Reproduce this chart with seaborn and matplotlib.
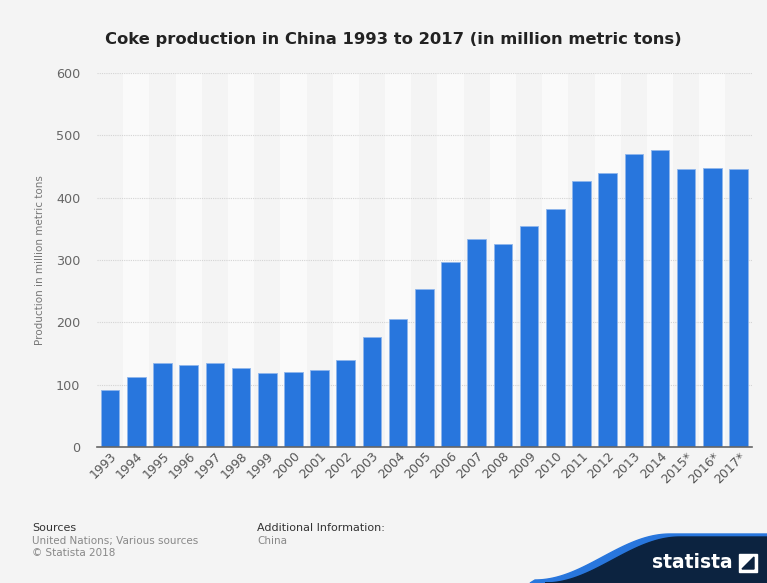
import numpy as np
import matplotlib
matplotlib.use("Agg")
import matplotlib.pyplot as plt
import seaborn as sns
import pandas as pd
from matplotlib.patches import Polygon

years = ["1993", "1994", "1995", "1996", "1997", "1998", "1999", "2000", "2001",
         "2002", "2003", "2004", "2005", "2006", "2007", "2008", "2009", "2010",
         "2011", "2012", "2013", "2014", "2015*", "2016*", "2017*"]
production = [91, 112, 134, 132, 134, 127, 119, 121, 124, 140, 177, 205, 253,
              296, 333, 325, 354, 381, 426, 439, 470, 476, 446, 447, 446]

df = pd.DataFrame({"year": years, "production": production})

sns.set_theme(style="white")
plt.rcParams['font.family'] = ['DejaVu Sans']

bg = "#f4f4f4"
fig = plt.figure(figsize=(7.67, 5.83), dpi=100, facecolor=bg)
ax = fig.add_axes([0.1265, 0.2333, 0.8535, 0.6415])
ax.set_facecolor(bg)

for i in range(len(years)):
    if i % 2 == 1:
        ax.axvspan(i - 0.5, i + 0.5, color="#fafafa", zorder=0, lw=0)

sns.barplot(data=df, x="year", y="production", color="#2876dd", width=0.71,
            saturation=1, edgecolor="#8fb6ec", linewidth=0.6, ax=ax, zorder=3)

ax.set_xlim(-0.5, len(years) - 0.5)
ax.set_ylim(0, 600)
ax.set_yticks(range(0, 601, 100))
ax.yaxis.grid(True, linestyle=(0, (1, 1)), color="#d4d4d4", linewidth=0.8, zorder=1)
ax.set_axisbelow(True)
for s in ["top", "right", "left"]:
    ax.spines[s].set_visible(False)
ax.spines["bottom"].set_color("#666666")
ax.spines["bottom"].set_linewidth(1.2)
ax.spines["bottom"].set_zorder(4)

ax.tick_params(axis="y", length=0, labelsize=9.2, labelcolor="#666666", pad=12)
ax.tick_params(axis="x", length=0, labelsize=9, labelcolor="#555555", pad=2)
for lbl in ax.get_xticklabels():
    lbl.set_rotation(45)
    lbl.set_ha("right")
    lbl.set_rotation_mode("anchor")

ax.set_xlabel("")
ax.set_ylabel("Production in million metric tons", fontsize=7.5, color="#777777", labelpad=8)

fig.text(0.513, 0.932, "Coke production in China 1993 to 2017 (in million metric tons)",
         ha="center", va="center", fontsize=11.8, fontweight="bold", color="#222222")

fig.text(32/767, 1 - 528/583, "Sources", fontsize=8, color="#333333", va="center")
fig.text(32/767, 1 - 541/583, "United Nations; Various sources", fontsize=7.5, color="#888888", va="center")
fig.text(32/767, 1 - 553/583, "© Statista 2018", fontsize=7.5, color="#888888", va="center")
fig.text(257/767, 1 - 528/583, "Additional Information:", fontsize=8, color="#333333", va="center")
fig.text(257/767, 1 - 541/583, "China", fontsize=7.5, color="#888888", va="center")

# logo shape
W, H = 767, 583
t = np.linspace(0, 1, 60)
def wave(x0, x1, ytop, ybot):
    xs = x0 + (x1 - x0) * t
    ys = ybot + (ytop - ybot) * (0.5 - 0.5 * np.cos(np.pi * t))
    return xs, ys
xs, ys = wave(545, 680, 537, 583)
pts_blue = [(x / W, 1 - y / H) for x, y in zip(xs - 10, ys - 3)] + [(1, 1 - 534 / H), (1, 0), (530 / W, 0)]
fig.patches.append(Polygon(pts_blue, closed=True, transform=fig.transFigure, color="#2876dd", zorder=1))
pts_navy = [(x / W, 1 - y / H) for x, y in zip(xs, ys)] + [(1, 1 - 537 / H), (1, 0), (545 / W, 0)]
fig.patches.append(Polygon(pts_navy, closed=True, transform=fig.transFigure, color="#0c2340", zorder=2))
fig.text(733/767, 1 - 563/583, "statista", fontsize=13.5, fontweight="bold", color="white",
         ha="right", va="center", zorder=3)
fig.patches.append(Polygon([(739/W, 1-554/H), (757/W, 1-554/H), (757/W, 1-572/H), (739/W, 1-572/H)],
                           closed=True, transform=fig.transFigure, color="white", zorder=3))
fig.patches.append(Polygon([(742/W, 1-569/H), (754/W, 1-557/H), (754/W, 1-569/H)],
                           closed=True, transform=fig.transFigure, color="#0c2340", zorder=4))

fig.savefig("out.png", dpi=100, facecolor=bg)
